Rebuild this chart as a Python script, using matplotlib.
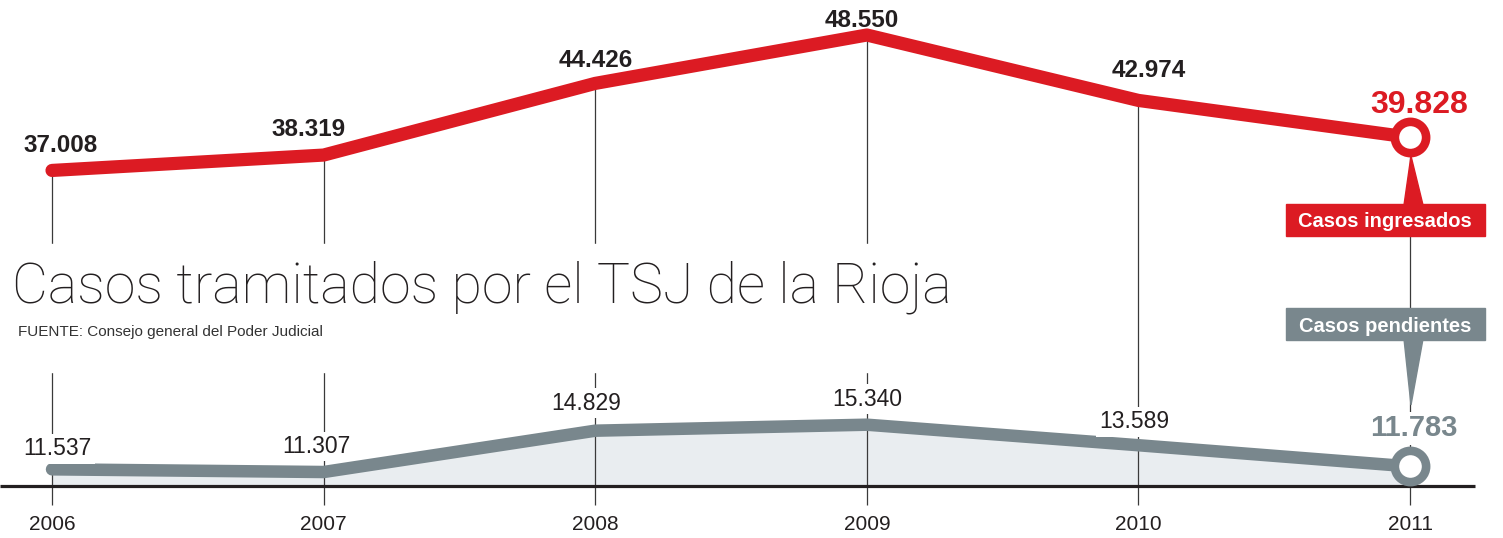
import matplotlib.pyplot as plt
from matplotlib.patches import Rectangle, Polygon

years = [2006, 2007, 2008, 2009, 2010, 2011]
year_labels = ["2006", "2007", "2008", "2009", "2010", "2011"]
ingresados = [37008, 38319, 44426, 48550, 42974, 39828]
pendientes = [11537, 11307, 14829, 15340, 13589, 11783]

title = "Casos tramitados por el TSJ de la Rioja"
source = "FUENTE: Consejo general del Poder Judicial"

RED = "#dc1b23"
GREY = "#79878d"
FILL = "#e9edf0"
INK = "#231f20"

plt.rcParams["font.family"] = ["Liberation Sans", "DejaVu Sans"]
TITLE_FONT = ["Roboto", "Lato", "Liberation Sans", "DejaVu Sans"]

W, H = 1503, 538


def fx(px):
    return px / W


def fy(py):
    return 1 - py / H


def fmt(v):
    return f"{v:,}".replace(",", ".")


fig = plt.figure(figsize=(15.03, 5.38), dpi=100)
ax = fig.add_axes([0, 0, 1, 1])
ax.set_xlim(2005.8085, 2011.342)
ax.set_ylim(5684, 51533)
ax.axis("off")

base = 10117      # axis line
tick_end = 8500   # bottom end of the year ticks

# area + lines
ax.fill_between(years, pendientes, base, color=FILL, lw=0, zorder=0.5)
ax.vlines(years, tick_end, ingresados, color="#3a3a3a", lw=0.9, zorder=1)
ax.hlines(base, 2005.8085, 2011.24, color=INK, lw=2.3, zorder=4)
ax.plot(years, pendientes, color=GREY, lw=9, solid_capstyle="round",
        solid_joinstyle="round", zorder=3)
ax.plot(years, ingresados, color=RED, lw=9.5, solid_capstyle="round",
        solid_joinstyle="round", zorder=3)
ax.plot(years[-1], ingresados[-1], "o", ms=22.5, mew=6.2, mfc="white", mec=RED, zorder=6)
ax.plot(years[-1], pendientes[-1], "o", ms=22.5, mew=6.2, mfc="white", mec=GREY, zorder=6)

# white band behind the title that cuts the guide lines
ax.add_patch(Rectangle((0, fy(372)), fx(1000), (372 - 244) / H,
                       transform=fig.transFigure, color="white", zorder=2))

# value labels
red_off = [(9, 18), (-15, 19), (0, 16), (-5, 8), (10, 23)]
for x, v, (dx, dy) in zip(years[:-1], ingresados[:-1], red_off):
    ax.annotate(fmt(v), (x, v), xytext=(dx, dy), textcoords="offset pixels",
                ha="center", va="baseline", fontsize=17.5, fontweight="bold",
                color=INK, zorder=8)
ax.annotate(fmt(ingresados[-1]), (years[-1], ingresados[-1]), xytext=(9, 24),
            textcoords="offset pixels", ha="center", va="baseline",
            fontsize=23, fontweight="bold", color=RED, zorder=8)

grey_off = [(5, 14), (-7, 19), (-9, 21), (0, 19), (-4, 17)]
for x, v, (dx, dy) in zip(years[:-1], pendientes[:-1], grey_off):
    ax.annotate(fmt(v), (x, v), xytext=(dx, dy), textcoords="offset pixels",
                ha="center", va="baseline", fontsize=16.5, color=INK, zorder=8,
                bbox=dict(boxstyle="square,pad=0.15", fc="white", ec="none"))
ax.annotate(fmt(pendientes[-1]), (years[-1], pendientes[-1]), xytext=(4, 30),
            textcoords="offset pixels", ha="center", va="baseline",
            fontsize=21, fontweight="bold", color=GREY, zorder=8,
            bbox=dict(boxstyle="square,pad=0.1", fc="white", ec="none"))

# year labels
for x, lab in zip(years, year_labels):
    ax.annotate(lab, (x, base), xytext=(0, -44), textcoords="offset pixels",
                ha="center", va="baseline", fontsize=15, color=INK)

# callouts
ax.add_patch(Polygon([(fx(1404), fy(205)), (fx(1423), fy(205)), (fx(1411), fy(156))],
                     closed=True, transform=fig.transFigure, color=RED, zorder=7))
ax.add_patch(Rectangle((fx(1286), fy(236)), fx(1485) - fx(1286), 32 / H,
                       transform=fig.transFigure, color=RED, zorder=7))
fig.text(fx(1385), fy(227), "Casos ingresados", ha="center", va="baseline",
         fontsize=14.5, fontweight="bold", color="white")

ax.add_patch(Polygon([(fx(1404), fy(339)), (fx(1423), fy(339)), (fx(1411), fy(405))],
                     closed=True, transform=fig.transFigure, color=GREY, zorder=7))
ax.add_patch(Rectangle((fx(1286), fy(340)), fx(1485) - fx(1286), 32 / H,
                       transform=fig.transFigure, color=GREY, zorder=7))
fig.text(fx(1385), fy(332), "Casos pendientes", ha="center", va="baseline",
         fontsize=14.5, fontweight="bold", color="white")

# title and source
fig.text(fx(12), fy(302), title, ha="left", va="baseline", fontsize=40,
         family=TITLE_FONT, fontweight="light", color=INK)
fig.text(fx(18), fy(336), source, ha="left", va="baseline", fontsize=11,
         color="#333333")

fig.savefig("out.png", dpi=100)
